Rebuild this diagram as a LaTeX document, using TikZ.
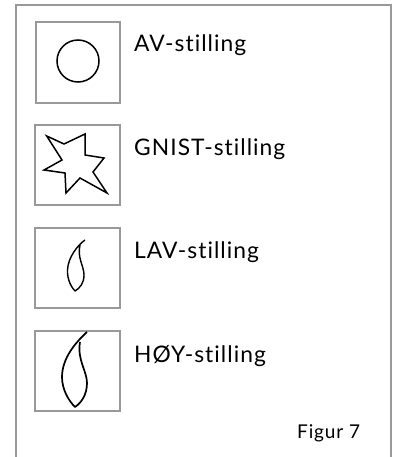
\documentclass[tikz,border=0pt]{standalone}
\usepackage{fontspec}
\setmainfont[Ligatures=NoCommon,LetterSpace=4.5]{Lato}
\tikzset{
  frameline/.style={draw=black!40,line width=2pt},
  iconbox/.style={draw=black!40,line width=2pt,fill=white},
  ink/.style={draw=black,line width=1.5pt,line join=miter},
  label/.style={anchor=base west,inner sep=0pt,font=\fontsize{22.8}{25}\selectfont,text=black},
  figlabel/.style={anchor=base west,inner sep=0pt,font=\fontsize{19}{22}\selectfont,text=black}
}
\begin{document}
\begin{tikzpicture}[x=1pt,y=-1pt]
\useasboundingbox (0,0) rectangle (398,457);
\fill[white] (0,0) rectangle (398,457);
\coordinate (fa) at (15.5,457);
\coordinate (fb) at (15.5,5);
\coordinate (fc) at (391,5);
\coordinate (fd) at (391,457);
\draw[frameline] (fa) -- (fb) -- (fc) -- (fd);
\node[iconbox,minimum width=84pt,minimum height=81pt,inner sep=0pt] (b1) at (78,62.5) {};
\node[iconbox,minimum width=85pt,minimum height=80pt,inner sep=0pt] (b2) at (77.5,165) {};
\node[iconbox,minimum width=85pt,minimum height=80pt,inner sep=0pt] (b3) at (77.5,268) {};
\node[iconbox,minimum width=85pt,minimum height=80pt,inner sep=0pt] (b4) at (77.5,371) {};
\draw[ink] (78,61) circle (21);
\draw[ink] (46.7,136) -- (64,144) -- (85,134) -- (85,155) -- (104,158) -- (93,172) -- (107,193) -- (80,178) -- (66,193) -- (65,173) -- (44,170) -- (62,160) -- cycle;
\draw[ink,line width=1.4pt,line join=round] (85,240) .. controls (78,245) and (68,257) .. (67.5,270) .. controls (67,280) and (72,288) .. (75,291) .. controls (80,288) and (84,283) .. (84,275) .. controls (84,266) and (77,258) .. (80,245);
\draw[ink,line width=1.7pt,line join=round] (87,332) .. controls (76,342) and (62,358) .. (62,377) .. controls (62,390) and (69,401) .. (75,407) .. controls (81,403) and (87,395) .. (87,383) .. controls (87,371) and (77,360) .. (80,342);
\node[label] (t1) at (134,52) {AV-stilling};
\node[label] (t2) at (134,156) {GNIST-stilling};
\node[label] (t3) at (134,258) {LAV-stilling};
\node[label] (t4) at (134,362) {HØY-stilling};
\node[figlabel] (t5) at (297,438) {Figur 7};
\end{tikzpicture}
\end{document}
